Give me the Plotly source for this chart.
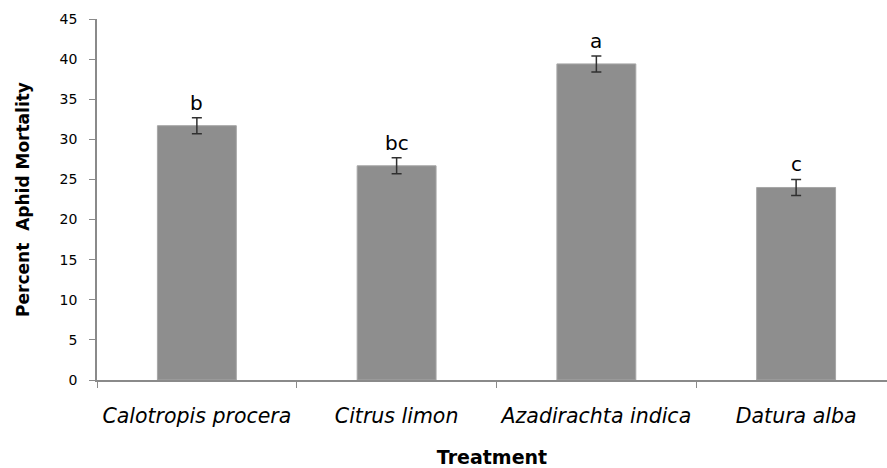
import plotly.graph_objects as go

categories = ["Calotropis procera", "Citrus limon", "Azadirachta indica", "Datura alba"]
mortality = [31.7, 26.7, 39.4, 24.0]
std_err = [1.0, 1.0, 1.0, 1.0]
letters = ["b", "bc", "a", "c"]
y_ticks = [0, 5, 10, 15, 20, 25, 30, 35, 40, 45]

FONT = "DejaVu Sans"

fig = go.Figure()
fig.add_trace(go.Bar(
    x=categories, y=mortality,
    width=0.395,
    marker=dict(color="#8e8e8e", line=dict(color="#a6a6a6", width=1)),
    error_y=dict(type="data", array=std_err, visible=True,
                 color="#303030", thickness=1.5, width=5),
    showlegend=False,
))

for c, v, e, t in zip(categories, mortality, std_err, letters):
    fig.add_annotation(x=c, y=v + e, text=t, showarrow=False,
                       yanchor="bottom", yshift=1,
                       font=dict(family=FONT, size=20, color="#000"))

fig.update_layout(
    width=887, height=468,
    margin=dict(l=97, r=0, t=19, b=88),
    plot_bgcolor="white", paper_bgcolor="white",
    bargap=0.6,
    font=dict(family=FONT, color="#000"),
    xaxis=dict(
        range=[-0.5, 3.455], automargin=False,
        showline=True, linecolor="#8a8a8a", linewidth=1.5,
        ticks="outside", tickson="boundaries", ticklen=6, tickcolor="#8a8a8a",
        tickangle=0,
        tickfont=dict(family=FONT, size=20.5, style="italic", color="#000"),
        ticklabelstandoff=17,
        title=dict(text="<b>Treatment</b>", font=dict(family=FONT, size=19), standoff=23),
        showgrid=False, zeroline=False,
    ),
    yaxis=dict(
        range=[0, 45], automargin=False,
        tickvals=y_ticks,
        showline=True, linecolor="#8a8a8a", linewidth=1.5,
        ticks="outside", ticklen=6, tickcolor="#8a8a8a",
        tickfont=dict(family=FONT, size=14, color="#000"),
        ticklabelstandoff=9,
        title=dict(text="<b>Percent&nbsp;&nbsp;Aphid Mortality</b>",
                   font=dict(family=FONT, size=17), standoff=26),
        showgrid=False, zeroline=False,
    ),
)

fig.write_html("out.html")
